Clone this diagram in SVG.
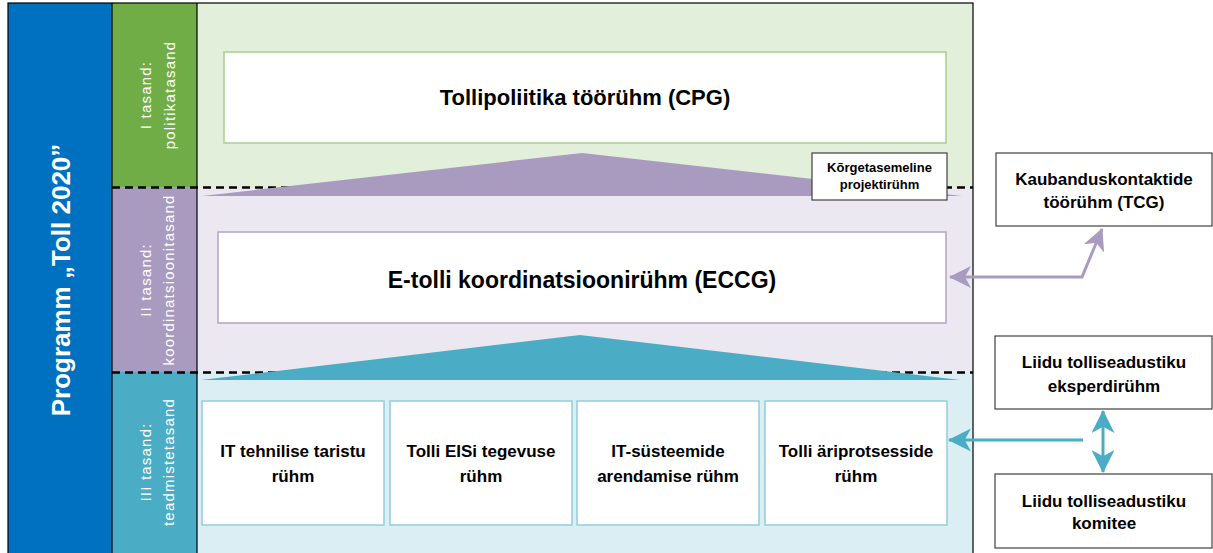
<svg xmlns="http://www.w3.org/2000/svg" width="1213" height="553" viewBox="0 0 1213 553">
<style>
text{font-family:"Liberation Sans",Arial,sans-serif;}
.b{font-weight:bold;fill:#000;text-anchor:middle;}
.lbl{fill:#fff;font-size:15px;letter-spacing:1.2px;text-anchor:middle;}
.title{fill:#fff;font-size:26px;font-weight:bold;text-anchor:middle;}
.dash{stroke:#000;stroke-width:2.5;stroke-dasharray:8 5;fill:none;}
.ext{fill:#fff;stroke:#404040;stroke-width:1.2;}
.pc{stroke:#A99AC0;stroke-width:3;fill:none;}
.tc{stroke:#4BACC6;stroke-width:3;fill:none;}
</style>
<defs>
<marker id="ap" viewBox="0 0 22 22" markerWidth="22" markerHeight="22" refX="21" refY="11" orient="auto-start-reverse" markerUnits="userSpaceOnUse"><path d="M0,0 L22,11 L0,22 L6,11 Z" fill="#A99AC0"/></marker>
<marker id="at" viewBox="0 0 22 22" markerWidth="23" markerHeight="23" refX="21" refY="11" orient="auto-start-reverse" markerUnits="userSpaceOnUse"><path d="M0,0 L22,11 L0,22 L6,11 Z" fill="#4BACC6"/></marker>
</defs>
<rect x="0" y="0" width="1213" height="553" fill="#fff"/>
<g id="bands">
<rect x="8" y="3" width="104" height="550" fill="#0070C0"/>
<rect x="112" y="3" width="85" height="184" fill="#70AD47"/>
<rect x="112" y="187" width="85" height="185" fill="#A99AC0"/>
<rect x="112" y="372" width="85" height="181" fill="#4BACC6"/>
<rect x="197" y="3" width="776" height="184" fill="#E2EFDA"/>
<rect x="197" y="187" width="776" height="185" fill="#ECE8F1"/>
<rect x="197" y="372" width="776" height="181" fill="#DAEEF3"/>
<line class="dash" x1="112" y1="187.5" x2="973" y2="187.5"/>
<line class="dash" x1="112" y1="372.5" x2="973" y2="372.5"/>
<polygon points="202,196 582,153 962,196" fill="#A99AC0"/>
<polygon points="201,380 580,335 960,380" fill="#4BACC6"/>
<rect x="8" y="3" width="965" height="560" fill="none" stroke="#000" stroke-width="1.2"/>
<line x1="112" y1="3" x2="112" y2="553" stroke="#000" stroke-width="1.2"/>
<line x1="197" y1="3" x2="197" y2="553" stroke="#000" stroke-width="1.2"/>
</g>
<g id="program">
<text class="title" transform="translate(70,280) rotate(-90)">Programm „Toll 2020”</text>
</g>
<g id="level1">
<text class="lbl" transform="translate(151,95) rotate(-90)"><tspan x="0" y="0">I tasand:</tspan><tspan x="0" y="24">politikatasand</tspan></text>
</g>
<g id="level2">
<text class="lbl" transform="translate(151,280) rotate(-90)"><tspan x="0" y="0">II tasand:</tspan><tspan x="0" y="23">koordinatsioonitasand</tspan></text>
</g>
<g id="level3">
<text class="lbl" transform="translate(151,462) rotate(-90)"><tspan x="0" y="0">III tasand:</tspan><tspan x="0" y="23">teadmistetasand</tspan></text>
</g>
<g id="cpg">
<rect x="224" y="52" width="722" height="91" fill="#fff" stroke="#A9D08E" stroke-width="1.5"/>
<text class="b" x="585" y="105" font-size="22">Tollipoliitika töörühm (CPG)</text>
</g>
<g id="hlpg">
<rect class="ext" x="812" y="153" width="135" height="47"/>
<text class="b" x="879.5" font-size="13"><tspan x="879.5" y="172">Kõrgetasemeline</tspan><tspan x="879.5" y="189">projektirühm</tspan></text>
</g>
<g id="eccg">
<rect x="218" y="232" width="728" height="91" fill="#fff" stroke="#B3A2C7" stroke-width="1.5"/>
<text class="b" x="582" y="288" font-size="23">E-tolli koordinatsioonirühm (ECCG)</text>
</g>
<g id="g1">
<rect x="202" y="401" width="182" height="124" fill="#fff" stroke="#93CDDD" stroke-width="1.5"/>
<text class="b" font-size="17"><tspan x="293" y="457">IT tehnilise taristu</tspan><tspan x="293" y="482">rühm</tspan></text>
</g>
<g id="g2">
<rect x="390" y="401" width="182" height="124" fill="#fff" stroke="#93CDDD" stroke-width="1.5"/>
<text class="b" font-size="17"><tspan x="481" y="457">Tolli EISi tegevuse</tspan><tspan x="481" y="482">rühm</tspan></text>
</g>
<g id="g3">
<rect x="577" y="401" width="182" height="124" fill="#fff" stroke="#93CDDD" stroke-width="1.5"/>
<text class="b" font-size="17"><tspan x="668" y="457">IT-süsteemide</tspan><tspan x="668" y="482">arendamise rühm</tspan></text>
</g>
<g id="g4">
<rect x="765" y="401" width="182" height="124" fill="#fff" stroke="#93CDDD" stroke-width="1.5"/>
<text class="b" font-size="17"><tspan x="856" y="457">Tolli äriprotsesside</tspan><tspan x="856" y="482">rühm</tspan></text>
</g>
<g id="tcg">
<rect class="ext" x="996" y="153" width="216" height="73"/>
<text class="b" font-size="17"><tspan x="1104" y="185">Kaubanduskontaktide</tspan><tspan x="1104" y="208">töörühm  (TCG)</tspan></text>
</g>
<g id="expert">
<rect class="ext" x="995" y="336" width="217" height="73"/>
<text class="b" font-size="17"><tspan x="1104" y="368">Liidu tolliseadustiku</tspan><tspan x="1104" y="392">eksperdirühm</tspan></text>
</g>
<g id="committee">
<rect class="ext" x="995" y="474" width="217" height="74"/>
<text class="b" font-size="17"><tspan x="1104" y="507">Liidu tolliseadustiku</tspan><tspan x="1104" y="529">komitee</tspan></text>
</g>
<g id="connectors">
<path class="pc" d="M950,277 L1082,277 L1102,229" marker-start="url(#ap)" marker-end="url(#ap)"/>
<path class="tc" d="M1083,440 L949,440" marker-end="url(#at)"/>
<path class="tc" d="M1103,411 L1103,472" marker-start="url(#at)" marker-end="url(#at)"/>
</g>
</svg>
